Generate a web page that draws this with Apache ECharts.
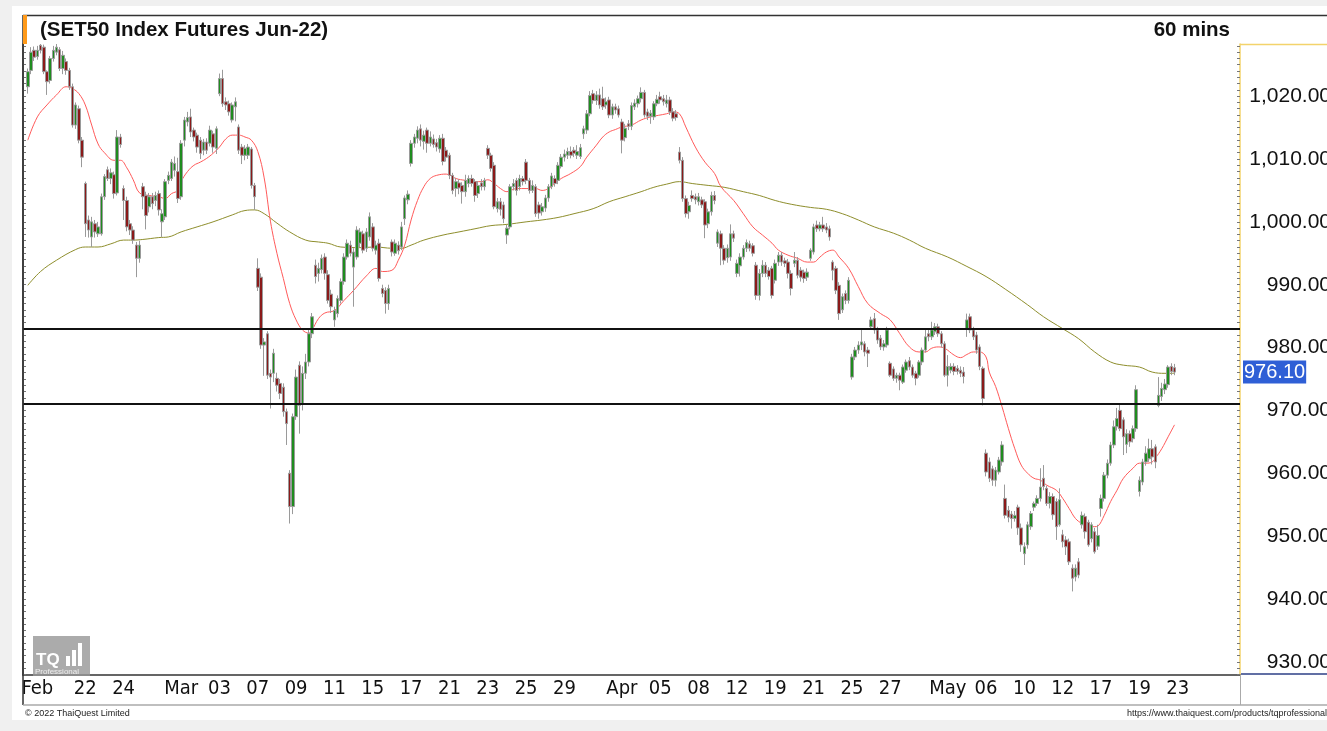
<!DOCTYPE html>
<html>
<head>
<meta charset="utf-8">
<script src="https://cdn.jsdelivr.net/npm/echarts@6/dist/echarts.min.js"></script>
<style>
  html, body { margin: 0; padding: 0; background: #f0f0f0; }
  #chart { width: 1327px; height: 731px; }
</style>
</head>
<body>
<div id="chart"></div>
<script>
// one label per trading day ('' = no label), 6 hourly bars per day
var dayLabels = [
  'Feb', '', '', '22', '', '24', '', '',
  'Mar', '', '03', '', '07', '', '09', '', '11', '', '15', '', '17', '', '21', '', '23', '', '25', '', '29', '', '',
  'Apr', '', '05', '', '08', '', '12', '', '19', '', '21', '', '25', '', '27', '', '',
  'May', '', '06', '', '10', '', '12', '', '17', '', '19', '',
  '23', '', ''
];

// hourly candles: [open, close, low, high]
var candles = [
  // Feb 17
  [1021.5,1023.9,1020.4,1024.4],[1024.1,1027.0,1023.5,1027.8],[1027.3,1026.2,1025.6,1027.9],[1026.3,1027.3,1025.8,1028.0],[1028.1,1027.3,1026.8,1028.3],[1027.8,1023.9,1023.5,1028.2],
  // Feb 18
  [1023.9,1022.3,1020.2,1024.1],[1022.5,1026.0,1022.0,1026.4],[1026.0,1027.3,1025.5,1028.0],[1027.0,1027.8,1026.5,1028.3],[1027.4,1024.4,1024.0,1027.8],[1024.4,1026.5,1023.5,1027.2],
  // Feb 21
  [1025.5,1024.1,1023.4,1026.0],[1024.1,1021.5,1021.0,1024.5],[1021.5,1015.4,1015.0,1022.0],[1015.4,1018.6,1014.8,1019.0],[1018.0,1013.0,1012.5,1018.5],[1013.0,1010.3,1008.7,1013.5],
  // Feb 22
  [1006.1,999.7,997.6,1006.4],[1000.3,998.7,997.5,1001.0],[997.6,1000.0,996.0,1000.8],[999.7,998.4,997.5,1000.3],[998.1,999.2,997.6,1000.0],[998.1,1004.0,997.8,1004.5],
  // Feb 23
  [1004.0,1007.2,1003.5,1007.6],[1008.3,1006.9,1006.5,1008.8],[1006.9,1007.8,1006.0,1008.5],[1007.5,1004.5,1003.7,1008.0],[1004.6,1013.5,1004.2,1014.6],[1013.5,1012.3,1011.8,1014.0],
  // Feb 24
  [1005.3,1003.4,1000.3,1005.8],[1003.4,999.2,998.5,1004.0],[999.7,998.7,997.9,1000.3],[998.7,997.1,996.5,999.3],[996.3,994.2,991.2,996.8],[994.2,996.3,993.5,997.0],
  // Feb 25
  [1005.6,1004.0,1002.0,1006.2],[1004.2,1001.0,998.8,1004.8],[1002.4,1004.0,1001.5,1004.6],[1004.0,1002.9,1002.0,1004.6],[1003.4,1004.2,1002.5,1004.8],[1004.5,1001.9,1001.0,1005.0],
  // Feb 28
  [1000.0,1001.3,997.6,1002.0],[1000.8,1006.4,1000.3,1006.8],[1006.6,1007.4,1006.0,1008.0],[1006.9,1009.5,1006.5,1010.0],[1008.2,1009.3,1007.2,1010.4],[1008.0,1003.7,1003.0,1010.2],
  // Mar 01
  [1004.0,1012.5,1003.5,1013.0],[1013.0,1016.2,1012.0,1016.7],[1015.9,1016.6,1015.2,1017.5],[1016.7,1014.3,1013.5,1018.0],[1014.6,1013.5,1012.8,1015.0],[1013.8,1011.9,1011.0,1014.2],
  // Mar 02
  [1013.0,1010.9,1010.0,1013.5],[1011.4,1012.7,1010.6,1013.2],[1012.7,1011.4,1010.8,1013.3],[1012.5,1014.6,1012.0,1015.3],[1014.0,1011.9,1011.0,1014.5],[1011.7,1014.8,1010.8,1015.2],
  // Mar 03
  [1020.4,1022.8,1020.0,1023.6],[1022.8,1018.8,1018.3,1024.2],[1019.1,1018.6,1017.8,1019.8],[1018.8,1017.5,1016.9,1019.3],[1016.2,1018.6,1015.8,1019.0],[1018.3,1019.1,1016.0,1019.8],
  // Mar 04
  [1015.1,1011.4,1010.8,1015.5],[1011.9,1010.6,1009.2,1012.4],[1010.6,1011.7,1009.8,1012.2],[1010.6,1011.9,1010.0,1012.4],[1011.6,1005.8,1005.3,1011.9],[1005.8,1004.0,1001.9,1006.2],
  // Mar 07
  [992.6,989.6,989.0,994.2],[991.2,980.4,979.8,991.8],[980.4,980.9,975.5,981.5],[982.2,975.6,975.0,982.6],[975.9,975.3,970.3,976.5],[975.9,979.1,974.5,979.8],
  // Mar 08
  [975.1,974.0,973.0,976.0],[974.3,972.7,971.8,975.0],[973.7,969.8,969.0,974.3],[969.8,967.9,964.5,970.3],[960.0,954.7,952.0,960.5],[954.7,969.0,953.5,969.5],
  // Mar 09
  [969.0,975.3,968.5,976.5],[977.2,970.8,966.3,977.8],[971.1,975.9,970.0,977.0],[975.9,977.7,975.0,979.0],[977.7,982.2,977.0,982.8],[982.2,984.9,981.5,985.5],
  // Mar 10
  [993.1,991.3,990.2,994.0],[991.8,992.6,990.5,993.5],[992.4,994.2,991.8,994.8],[994.4,991.8,990.8,995.0],[991.6,987.5,987.0,992.3],[988.5,986.5,985.5,989.2],
  // Mar 11
  [984.4,985.9,983.3,986.5],[985.4,987.8,984.8,988.3],[987.5,990.5,987.0,991.0],[990.5,994.4,990.0,995.0],[994.4,996.6,994.0,997.2],[996.3,995.0,994.5,997.0],
  // Mar 14
  [992.8,995.2,986.5,995.8],[994.4,998.7,994.0,999.3],[996.6,998.4,996.0,999.0],[998.1,995.5,995.0,998.6],[995.8,998.4,995.2,999.0],[997.6,1000.8,997.0,1001.5],
  // Mar 15
  [999.2,995.8,995.3,999.8],[995.5,996.3,994.8,997.0],[996.6,991.0,990.5,997.3],[989.4,988.6,988.0,990.0],[989.1,987.0,985.4,989.6],[987.0,989.4,986.0,990.0],
  // Mar 16
  [996.8,995.2,994.5,997.2],[995.0,996.6,994.6,997.2],[996.3,995.4,994.8,996.9],[996.0,999.2,995.5,1000.0],[1000.5,1003.8,999.5,1004.2],[1003.5,1004.4,1002.8,1005.0],
  // Mar 17
  [1009.3,1012.5,1008.8,1013.0],[1012.5,1013.5,1011.8,1014.0],[1013.3,1014.6,1012.5,1015.2],[1014.8,1013.0,1012.0,1015.5],[1012.8,1013.8,1011.5,1014.5],[1014.6,1012.5,1011.0,1015.0],
  // Mar 18
  [1012.5,1013.5,1012.0,1014.4],[1013.2,1012.3,1011.8,1013.9],[1012.6,1011.9,1011.2,1013.2],[1011.6,1013.3,1011.0,1013.8],[1013.3,1009.6,1009.0,1014.0],[1011.4,1010.3,1009.6,1011.9],
  // Mar 21
  [1010.6,1007.4,1006.8,1011.0],[1007.4,1005.0,1004.4,1007.8],[1005.3,1006.4,1004.0,1007.0],[1006.2,1005.4,1004.4,1006.8],[1005.8,1004.8,1002.9,1006.3],[1004.8,1006.6,1004.0,1007.5],
  // Mar 22
  [1006.1,1006.9,1005.5,1007.4],[1006.9,1006.1,1005.6,1007.5],[1006.4,1004.2,1003.2,1006.8],[1004.5,1005.8,1003.8,1006.5],[1006.2,1005.6,1005.0,1006.8],[1005.6,1006.6,1005.0,1007.0],
  // Mar 23
  [1011.7,1010.6,1010.0,1012.2],[1010.6,1008.5,1008.0,1011.0],[1009.0,1002.4,1002.0,1009.5],[1002.1,1003.2,1001.5,1003.8],[1003.2,1002.0,1001.0,1003.8],[1002.7,1000.5,999.8,1003.2],
  // Mar 24
  [997.9,999.0,996.5,999.5],[999.2,1005.6,998.8,1006.0],[1005.6,1006.1,1005.0,1006.8],[1006.6,1005.0,1004.2,1007.0],[1005.6,1006.9,1005.0,1007.5],[1006.9,1006.4,1005.8,1007.3],
  // Mar 25
  [1009.5,1006.6,1006.0,1010.0],[1006.6,1005.0,1004.5,1007.0],[1005.0,1005.8,1004.6,1006.6],[1005.6,1001.3,1000.8,1006.0],[1002.7,1001.4,1000.5,1003.2],[1001.6,1002.4,1001.0,1003.0],
  // Mar 28
  [1002.2,1003.8,1001.6,1004.3],[1003.8,1005.6,1003.2,1006.0],[1005.6,1007.3,1005.2,1007.8],[1006.9,1006.1,1005.6,1007.4],[1006.6,1009.0,1006.0,1009.5],[1008.8,1010.3,1008.5,1010.8],
  // Mar 29
  [1010.3,1010.8,1009.6,1011.5],[1010.6,1011.2,1010.0,1011.8],[1011.2,1010.6,1010.1,1012.0],[1011.4,1010.9,1010.3,1011.9],[1010.6,1011.2,1010.0,1012.2],[1010.4,1011.8,1010.0,1012.4],
  // Mar 30
  [1014.0,1014.8,1013.2,1015.3],[1014.6,1017.2,1014.0,1017.8],[1017.2,1020.1,1016.8,1020.8],[1020.4,1019.3,1018.8,1021.0],[1019.3,1020.2,1018.6,1020.8],[1020.2,1018.6,1018.0,1021.2],
  // Mar 31
  [1019.6,1018.3,1017.8,1021.5],[1018.6,1019.1,1018.0,1019.8],[1019.4,1017.0,1016.5,1019.9],[1017.0,1018.3,1016.4,1018.8],[1018.3,1017.8,1017.2,1018.8],[1018.0,1017.0,1016.6,1018.5],
  // Apr 01
  [1015.9,1013.0,1010.9,1016.4],[1013.4,1014.9,1012.8,1015.6],[1015.6,1015.2,1014.6,1016.2],[1015.2,1018.5,1014.6,1019.0],[1018.3,1018.9,1017.8,1019.5],[1018.8,1019.6,1018.2,1020.1],
  // Apr 04
  [1019.6,1020.6,1019.0,1021.4],[1020.6,1017.0,1016.6,1021.0],[1017.5,1016.8,1016.2,1018.0],[1016.8,1017.3,1015.6,1017.8],[1016.7,1018.8,1016.2,1019.2],[1018.8,1019.5,1018.4,1020.2],
  // Apr 05
  [1019.9,1019.4,1018.8,1020.7],[1019.6,1019.1,1018.5,1020.2],[1018.8,1019.4,1018.2,1020.2],[1019.4,1017.5,1017.0,1019.9],[1017.5,1016.5,1016.0,1018.1],[1017.2,1016.6,1016.1,1017.8],
  // Apr 07
  [1011.1,1009.8,1009.3,1011.9],[1009.8,1003.7,1003.2,1010.3],[1003.7,1001.3,1000.7,1004.2],[1001.6,1002.6,1000.5,1003.2],[1004.2,1003.7,1003.2,1005.0],[1004.0,1003.5,1002.8,1004.5],
  // Apr 08
  [1003.2,1004.0,1002.6,1004.6],[1003.5,1002.7,1002.2,1004.0],[1003.2,999.5,997.4,1003.6],[999.7,1001.6,999.0,1002.1],[1001.6,1004.2,1001.0,1004.8],[1004.2,1003.4,1002.8,1004.9],
  // Apr 11
  [996.6,998.4,996.0,998.8],[998.1,995.8,993.1,998.6],[995.8,993.9,993.2,996.3],[994.3,995.8,993.5,996.4],[994.4,998.1,993.8,999.6],[998.1,997.4,996.8,998.6],
  // Apr 12
  [991.8,993.4,991.2,994.0],[993.0,994.4,991.3,995.0],[994.4,995.8,994.0,996.3],[995.8,996.7,995.2,997.2],[996.5,995.8,995.3,997.0],[996.2,995.0,994.5,996.6],
  // Apr 18
  [993.1,988.3,987.6,993.6],[988.3,991.8,987.5,992.5],[991.8,993.1,991.2,993.9],[993.1,991.8,991.2,993.6],[992.3,991.3,990.8,992.8],[992.6,988.3,987.8,993.0],
  // Apr 19
  [990.7,993.4,990.2,994.0],[993.6,994.7,993.0,995.2],[994.7,993.6,993.0,995.2],[993.8,993.4,992.8,994.3],[993.6,991.8,991.0,994.1],[991.8,989.4,988.3,992.3],
  // Apr 20
  [993.4,993.9,992.8,995.2],[993.9,991.5,991.0,994.4],[992.3,991.2,990.5,992.8],[992.0,991.0,990.3,992.4],[991.2,992.0,990.6,992.6],[994.2,995.5,993.8,995.8],
  // Apr 21
  [995.2,999.2,994.8,999.7],[999.5,998.9,998.4,1000.2],[998.9,999.5,998.5,1000.0],[999.5,998.9,998.4,1000.8],[999.2,998.7,998.2,999.8],[998.9,997.6,997.0,999.4],
  // Apr 22
  [993.6,992.3,990.7,993.9],[992.6,989.1,988.5,993.0],[989.9,985.4,984.4,990.4],[986.0,988.1,985.5,988.6],[988.6,987.5,986.9,989.1],[987.5,990.7,987.0,991.2],
  // Apr 25
  [975.3,978.5,974.9,979.0],[978.5,979.6,978.0,980.1],[979.6,980.4,979.0,981.0],[980.4,980.9,979.6,982.8],[980.6,979.3,978.6,981.0],[979.6,979.1,976.9,980.1],
  // Apr 26
  [983.3,984.4,982.8,984.9],[984.6,982.8,982.2,985.5],[982.8,981.2,980.6,983.3],[981.5,980.1,979.6,982.0],[980.1,980.6,979.5,981.2],[980.4,982.8,980.0,983.3],
  // Apr 27
  [977.5,975.6,975.3,977.8],[976.6,975.1,974.7,977.0],[975.1,975.6,974.4,976.0],[975.6,974.8,973.2,976.0],[974.5,976.9,974.2,977.3],[976.4,977.7,976.0,978.1],
  // Apr 28
  [977.9,976.9,976.4,978.5],[976.9,975.6,975.2,977.3],[975.9,975.1,974.0,976.3],[975.6,977.7,975.2,978.0],[977.7,979.6,977.2,980.0],[979.6,981.7,979.2,982.8],
  // Apr 29
  [982.2,981.7,981.0,982.8],[981.7,982.8,981.2,984.1],[982.5,983.3,982.0,983.9],[983.3,982.2,981.7,983.8],[982.2,980.6,980.0,982.6],[980.6,975.6,975.3,981.0],
  // May 03
  [975.6,977.0,973.8,978.8],[976.4,977.0,975.9,977.5],[977.0,976.2,975.6,977.5],[976.7,976.2,975.7,977.2],[976.4,975.9,975.3,977.0],[976.1,975.4,974.3,976.9],
  // May 05
  [983.0,984.4,981.7,985.4],[984.9,982.8,982.3,985.4],[982.8,981.7,981.2,983.3],[982.0,979.6,979.0,982.5],[980.1,977.0,976.4,980.5],[976.7,971.9,970.8,977.0],
  // May 06
  [963.2,960.2,959.5,963.8],[961.8,959.2,958.6,962.5],[960.7,958.9,958.0,961.2],[958.9,960.5,957.9,961.0],[960.2,962.1,959.8,962.6],[961.8,964.5,961.2,965.1],
  // May 09
  [956.0,953.3,952.8,958.2],[954.1,953.0,952.2,954.8],[953.5,952.8,951.2,954.0],[952.8,953.3,952.3,954.0],[954.6,951.3,950.2,955.0],[951.3,948.6,947.5,952.0],
  // May 10
  [947.2,948.3,945.4,949.0],[948.6,951.8,948.0,952.3],[951.5,953.6,951.0,954.0],[954.6,955.2,954.0,955.5],[955.2,956.0,954.8,956.5],[956.0,957.8,955.5,960.8],
  // May 11
  [959.2,957.9,957.3,961.3],[957.6,955.2,954.8,958.0],[955.2,956.3,954.4,957.0],[956.3,953.4,952.6,956.8],[955.5,951.5,949.4,956.0],[951.8,955.8,951.5,957.6],
  // May 12
  [950.2,949.1,948.2,951.0],[949.4,948.3,947.0,950.0],[949.1,945.9,945.4,949.6],[944.9,943.3,941.2,945.5],[943.5,944.9,942.8,945.5],[945.9,943.8,943.3,946.5],
  // May 13
  [951.8,953.3,951.2,953.9],[953.1,950.7,949.6,953.6],[952.2,948.6,948.3,952.6],[949.6,951.8,949.0,952.2],[950.7,947.5,947.2,951.3],[948.4,950.1,947.8,951.8],
  // May 17
  [954.4,956.0,953.1,956.6],[956.0,959.7,955.5,960.2],[959.7,961.6,959.2,962.2],[961.6,964.5,961.2,965.0],[964.5,967.4,964.0,968.4],[967.4,968.7,966.8,970.4],
  // May 18
  [970.0,967.1,966.7,970.9],[968.5,965.8,962.9,968.9],[964.6,966.3,963.2,967.0],[966.3,965.0,964.2,966.8],[965.5,967.1,964.9,967.6],[967.1,973.3,966.6,974.0],
  // May 19
  [957.1,958.9,956.3,959.5],[958.6,961.8,958.1,962.3],[961.8,963.2,961.2,964.3],[962.3,963.9,961.8,965.5],[963.9,962.6,961.4,965.3],[964.2,961.8,960.8,964.6],
  // May 20
  [970.8,972.4,970.5,975.3],[972.2,973.5,971.5,974.4],[973.3,974.2,972.6,975.0],[974.1,976.9,973.6,977.2],[977.0,976.2,975.6,977.5],[976.8,976.1,975.6,977.4]
];

// moving averages: [bar, value]
var fastMA = [
  [0,1013.0],[3,1016.7],[6,1018.6],[9,1020.2],[12,1021.5],[14,1021.2],[16,1020.4],[18,1018.6],[20,1015.4],[22,1012.4],
  [24,1011.0],[27,1009.8],[29,1009.8],[31,1008.6],[33,1006.7],[35,1004.6],[38,1004.2],[41,1004.0],[43,1003.7],[45,1004.5],
  [47,1005.0],[48,1006.4],[50,1008.0],[52,1009.0],[54,1009.5],[56,1010.1],[58,1010.9],[60,1011.9],[62,1013.2],[64,1013.8],
  [66,1013.8],[68,1013.5],[70,1013.0],[72,1011.2],[74,1007.0],[76,1000.0],[78,995.0],[80,991.0],[82,987.0],[84,984.4],
  [86,982.8],[88,982.3],[89,982.8],[91,984.6],[93,985.5],[96,985.9],[99,987.5],[102,989.1],[106,991.4],[109,992.6],
  [111,992.1],[114,992.3],[116,993.9],[118,996.3],[120,1000.3],[122,1003.4],[124,1005.6],[126,1006.9],[128,1007.4],[131,1007.6],
  [134,1006.9],[137,1006.6],[140,1006.4],[142,1006.4],[144,1006.7],[146,1006.1],[148,1005.3],[150,1004.8],[153,1005.3],[159,1005.3],
  [161,1005.0],[163,1005.3],[165,1006.1],[167,1006.9],[170,1007.7],[173,1008.8],[175,1010.3],[178,1012.2],[180,1013.5],[182,1014.3],
  [184,1014.7],[186,1015.1],[189,1015.4],[192,1016.2],[195,1016.7],[200,1017.2],[202,1017.5],[204,1017.2],[206,1015.1],[209,1011.9],
  [212,1009.5],[215,1007.7],[217,1005.6],[221,1003.4],[224,1001.3],[227,999.2],[230,997.9],[233,996.6],[235,995.5],[238,994.7],
  [241,994.2],[244,993.6],[246,993.6],[248,994.4],[250,995.2],[252,995.5],[254,994.4],[257,992.6],[260,989.7],[263,987.0],
  [267,985.4],[270,984.4],[273,982.2],[276,980.1],[279,979.3],[281,979.3],[283,979.9],[285,980.1],[287,979.9],[290,978.8],
  [292,978.4],[294,978.9],[296,979.3],[298,979.3],[300,978.5],[301,976.1],[303,973.8],[305,970.6],[307,967.1],[309,963.9],
  [311,961.3],[313,960.0],[315,959.2],[317,958.9],[319,958.1],[322,957.3],[324,956.0],[326,954.4],[328,952.8],[330,952.0],
  [332,951.5],[334,951.5],[335,951.6],[337,953.3],[339,955.5],[341,957.3],[343,959.2],[346,960.8],[348,961.6],[350,961.6],
  [352,961.8],[353,962.4],[355,963.9],[357,965.8],[359,967.7]
];
var slowMA = [
  [0,989.9],[4,992.1],[9,993.9],[15,995.6],[18,996.0],[22,996.0],[26,996.5],[30,997.1],[33,997.1],[36,997.2],
  [41,997.5],[44,997.6],[48,998.4],[53,999.2],[58,1000.0],[64,1001.1],[68,1001.8],[71,1001.9],[74,1001.3],[78,999.8],
  [82,998.4],[87,997.1],[91,996.8],[94,996.6],[98,996.0],[104,995.9],[109,996.0],[114,995.8],[117,995.8],[120,996.3],
  [124,997.1],[130,997.9],[135,998.4],[140,998.9],[145,999.4],[150,999.6],[156,1000.0],[161,1000.3],[166,1000.7],[171,1001.3],
  [177,1002.1],[182,1003.2],[187,1004.0],[192,1004.8],[196,1005.5],[200,1006.0],[204,1006.4],[208,1006.1],[213,1005.8],[218,1005.5],
  [224,1004.8],[229,1004.2],[234,1003.4],[239,1002.8],[245,1002.3],[250,1002.0],[255,1001.3],[260,1000.3],[265,999.2],[271,998.2],
  [276,997.1],[281,995.8],[288,994.4],[294,992.9],[300,991.3],[306,989.3],[313,986.8],[318,984.9],[324,983.0],[329,981.4],
  [334,979.3],[339,977.7],[343,977.2],[348,976.9],[352,976.1],[356,975.9],[359,975.9]
];

var levels = [983, 971];
var lastPrice = 976.10;
var priceTicks = [930, 940, 950, 960, 970, 980, 990, 1000, 1010, 1020];

// minor tick marks every point along the price axes
var minorTicks = [];
for (var t = 928; t <= 1028; t++) minorTicks.push(t);

// category slots: one empty slot in front, 6 per day, spare slots at the end
var totalSlots = 381;
var cats = [];
for (var i = 0; i < totalSlots; i++) cats.push('s' + i);
var labelAt = {};
dayLabels.forEach(function (txt, d) {
  if (txt) labelAt[1 + d * 6 + (d === 0 ? 3 : 0)] = txt;
});

function fmtPrice(v) {
  var p = v.toFixed(2).split('.');
  p[0] = p[0].replace(/\B(?=(\d{3})+(?!\d))/g, ',');
  return p.join('.');
}

var candleData = candles.map(function (c, i) { return [i + 1, c[0], c[1], c[2], c[3]]; });
var fastData = fastMA.map(function (p) { return [p[0] + 1, p[1]]; });
var slowData = slowMA.map(function (p) { return [p[0] + 1, p[1]]; });

var chart = echarts.init(document.getElementById('chart'));

var option = {
  backgroundColor: '#f0f0f0',
  animation: false,
  title: [
    {
      text: '(SET50 Index Futures Jun-22)', left: 40, top: 20, padding: 0,
      textStyle: { fontFamily: 'Liberation Sans, Arial', fontWeight: 'bold', fontSize: 20.5, color: '#111' }
    },
    {
      text: '60 mins', right: 97, top: 20, padding: 0,
      textStyle: { fontFamily: 'Liberation Sans, Arial', fontWeight: 'bold', fontSize: 20.5, color: '#111' }
    }
  ],
  grid: { left: 23, right: 87, top: 44, bottom: 56, outerBoundsMode: 'none', containLabel: false },
  xAxis: {
    type: 'category',
    data: cats,
    boundaryGap: true,
    axisLine: { lineStyle: { color: '#333', width: 1.5 } },
    axisTick: {
      interval: function (idx) { return labelAt[idx] !== undefined; },
      length: 4,
      lineStyle: { color: '#777' }
    },
    axisLabel: {
      interval: function (idx) { return labelAt[idx] !== undefined; },
      formatter: function (v, idx) { return labelAt[idx] || ''; },
      fontFamily: 'Liberation Sans Narrow, DejaVu Sans Condensed, Arial Narrow, sans-serif',
      fontSize: 20,
      color: '#111',
      margin: 4
    },
    splitLine: { show: false }
  },
  yAxis: [
    {
      type: 'value',
      position: 'right',
      min: 927.9,
      max: 1028.3,
      splitLine: { show: false },
      axisLine: { show: true, lineStyle: { color: '#f3d36b', width: 1.5 } },
      axisTick: { show: true, customValues: minorTicks, inside: true, length: 3, lineStyle: { color: '#777' } },
      axisLabel: {
        customValues: priceTicks,
        formatter: fmtPrice,
        align: 'right',
        margin: 91,
        fontFamily: 'Liberation Sans, Arial',
        fontSize: 21,
        color: '#111'
      }
    },
    {
      type: 'value',
      position: 'left',
      min: 927.9,
      max: 1028.3,
      splitLine: { show: false },
      axisLine: { show: true, lineStyle: { color: '#333', width: 1.5 } },
      axisTick: { show: true, customValues: minorTicks, inside: true, length: 3, lineStyle: { color: '#777' } },
      axisLabel: { show: false }
    }
  ],
  series: [
    {
      name: 'slow',
      type: 'line',
      data: slowData,
      smooth: 0.4,
      symbol: 'none',
      lineStyle: { color: '#8e8e2c', width: 1 },
      z: 2
    },
    {
      name: 'fast',
      type: 'line',
      data: fastData,
      smooth: 0.4,
      symbol: 'none',
      lineStyle: { color: '#ff5a5a', width: 1 },
      z: 2
    },
    {
      name: 'SET50',
      type: 'candlestick',
      data: candleData,
      encode: { x: 0, y: [1, 2, 3, 4] },
      barWidth: 3,
      clip: false,
      itemStyle: {
        color: '#1f8c1f',
        color0: '#8b1a1a',
        borderColor: '#9a9a9a',
        borderColor0: '#9a9a9a',
        borderWidth: 1
      },
      z: 3,
      markLine: {
        silent: true,
        symbol: ['none', 'none'],
        animation: false,
        data: [
          { yAxis: levels[0], lineStyle: { color: '#111', width: 2, type: 'solid' }, label: { show: false } },
          { yAxis: levels[1], lineStyle: { color: '#111', width: 2, type: 'solid' }, label: { show: false } },
          {
            yAxis: lastPrice,
            lineStyle: { color: 'rgba(0,0,0,0)', width: 1 },
            label: {
              show: true,
              position: 'end',
              distance: 3,
              formatter: lastPrice.toFixed(2),
              color: '#fff',
              backgroundColor: '#2f5fd6',
              padding: [2, 1, 1, 1],
              fontFamily: 'Liberation Sans, Arial',
              fontSize: 20
            }
          }
        ]
      }
    }
  ],
  graphic: [
    { type: 'rect', z: -10, shape: { x: 12, y: 6, width: 1315, height: 714 }, style: { fill: '#fff' } },
    { type: 'line', z: 50, shape: { x1: 23, y1: 15.5, x2: 1327, y2: 15.5 }, style: { stroke: '#333', lineWidth: 1.5 } },
    { type: 'line', z: 50, shape: { x1: 23, y1: 15, x2: 23, y2: 705 }, style: { stroke: '#333', lineWidth: 1.5 } },
    { type: 'rect', z: 51, shape: { x: 23, y: 15, width: 4, height: 29 }, style: { fill: '#ff9a1a' } },
    { type: 'line', z: 50, shape: { x1: 1240, y1: 44.5, x2: 1327, y2: 44.5 }, style: { stroke: '#f3d36b', lineWidth: 1.5 } },
    { type: 'line', z: 50, shape: { x1: 1241, y1: 674, x2: 1327, y2: 674 }, style: { stroke: '#2d3f86', lineWidth: 1.5 } },
    { type: 'line', z: 50, shape: { x1: 23, y1: 705, x2: 1327, y2: 705 }, style: { stroke: '#aaa', lineWidth: 1.5 } },
    { type: 'line', z: 50, shape: { x1: 1240.5, y1: 675, x2: 1240.5, y2: 705 }, style: { stroke: '#aaa', lineWidth: 1 } },
    // TQ logo
    { type: 'rect', z: 40, shape: { x: 33, y: 636, width: 57, height: 40 }, style: { fill: 'rgba(150,150,150,0.8)' } },
    { type: 'text', z: 41, style: { text: 'TQ', x: 36, y: 660, fill: '#fff', font: 'bold 17px "Liberation Sans"', textVerticalAlign: 'middle' } },
    { type: 'rect', z: 41, shape: { x: 66, y: 656, width: 4, height: 10 }, style: { fill: '#fff' } },
    { type: 'rect', z: 41, shape: { x: 72, y: 650, width: 4, height: 16 }, style: { fill: '#fff' } },
    { type: 'rect', z: 41, shape: { x: 78, y: 643, width: 4, height: 23 }, style: { fill: '#fff' } },
    { type: 'text', z: 41, style: { text: 'Professional', x: 35, y: 672, fill: '#eee', font: '8px "Liberation Sans"', textVerticalAlign: 'middle' } },
    // footer
    { type: 'text', z: 41, style: { text: '\u00a9 2022 ThaiQuest Limited', x: 25, y: 714, fill: '#222', font: '9px "Liberation Sans"', textVerticalAlign: 'middle' } },
    { type: 'text', z: 41, style: { text: 'https://www.thaiquest.com/products/tqprofessional', x: 1127, y: 714, fill: '#222', font: '9px "Liberation Sans"', textVerticalAlign: 'middle' } }
  ]
};

chart.setOption(option);
</script>
</body>
</html>
